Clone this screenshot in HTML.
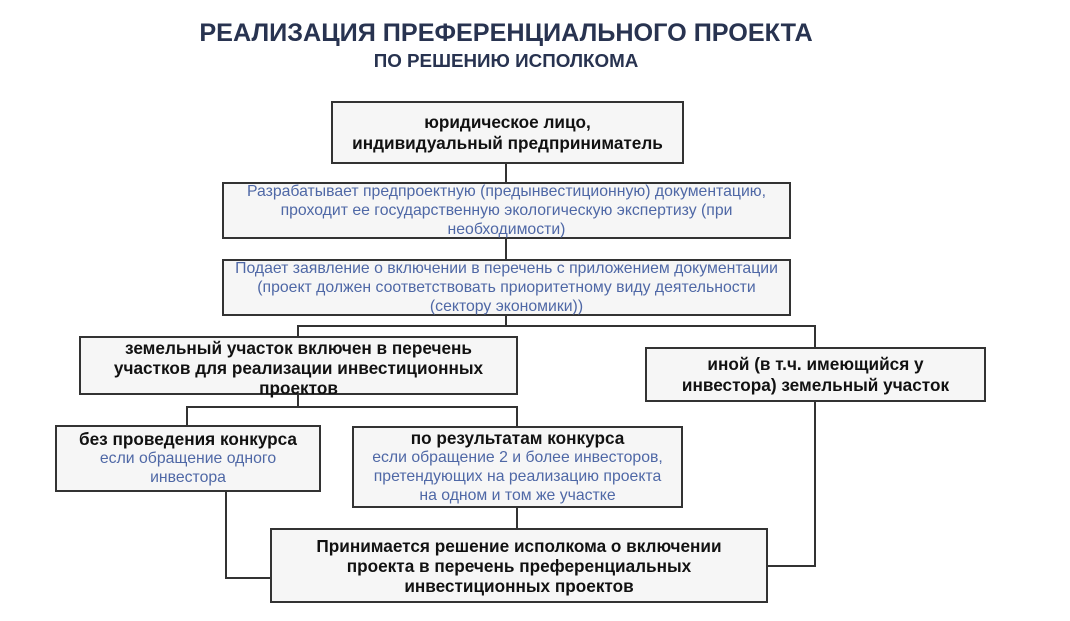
<!DOCTYPE html>
<html><head><meta charset="utf-8"><style>
body{margin:0;width:1070px;height:621px;background:#fff;position:relative;overflow:hidden;font-family:"Liberation Sans",Arial,sans-serif}
.t{position:absolute;left:0;width:1012px;text-align:center;color:#283350;font-weight:bold;white-space:nowrap}
.b{position:absolute;box-sizing:border-box;border:2px solid #333;background:#f6f6f6;display:flex;flex-direction:column;justify-content:center;align-items:center;text-align:center;line-height:19px;white-space:nowrap}
.k{font-weight:bold;color:#111;font-size:17.2px}
.u{color:#4f68a6;font-size:15.8px}
.l{position:absolute;background:#333}
</style></head><body>
<div class="t" style="top:19px;font-size:25.2px">РЕАЛИЗАЦИЯ ПРЕФЕРЕНЦИАЛЬНОГО ПРОЕКТА</div>
<div class="t" style="top:50px;font-size:18.8px">ПО РЕШЕНИЮ ИСПОЛКОМА</div>

<div class="l" style="left:505px;top:163px;width:2px;height:20px"></div>
<div class="l" style="left:505px;top:238px;width:2px;height:22px"></div>
<div class="l" style="left:505px;top:315px;width:2px;height:11px"></div>
<div class="l" style="left:297px;top:325px;width:518px;height:2px"></div>
<div class="l" style="left:297px;top:325px;width:2px;height:12px"></div>
<div class="l" style="left:814px;top:325px;width:2px;height:23px"></div>
<div class="l" style="left:297px;top:394px;width:2px;height:14px"></div>
<div class="l" style="left:186px;top:406px;width:332px;height:2px"></div>
<div class="l" style="left:186px;top:406px;width:2px;height:20px"></div>
<div class="l" style="left:516px;top:406px;width:2px;height:21px"></div>
<div class="l" style="left:225px;top:491px;width:2px;height:88px"></div>
<div class="l" style="left:225px;top:577px;width:46px;height:2px"></div>
<div class="l" style="left:516px;top:507px;width:2px;height:22px"></div>
<div class="l" style="left:814px;top:401px;width:2px;height:166px"></div>
<div class="l" style="left:766px;top:565px;width:50px;height:2px"></div>

<div class="b k" style="left:331px;top:101px;width:353px;height:63px;line-height:21px"><div>юридическое лицо,</div><div>индивидуальный предприниматель</div></div>
<div class="b u" style="left:222px;top:182px;width:569px;height:57px"><div>Разрабатывает предпроектную (предынвестиционную) документацию,</div><div>проходит ее государственную экологическую экспертизу (при</div><div>необходимости)</div></div>
<div class="b u" style="left:222px;top:259px;width:569px;height:57px"><div>Подает заявление о включении в перечень с приложением документации</div><div>(проект должен соответствовать приоритетному виду деятельности</div><div>(сектору экономики))</div></div>
<div class="b k" style="left:79px;top:336px;width:439px;height:59px;line-height:20px;justify-content:flex-start;padding-top:0"><div>земельный участок включен в перечень</div><div>участков для реализации инвестиционных</div><div>проектов</div></div>
<div class="b k" style="left:645px;top:347px;width:341px;height:55px;line-height:21px"><div>иной (в т.ч. имеющийся у</div><div>инвестора) земельный участок</div></div>
<div class="b" style="left:55px;top:425px;width:266px;height:67px"><div class="k">без проведения конкурса</div><div class="u">если обращение одного</div><div class="u">инвестора</div></div>
<div class="b" style="left:352px;top:426px;width:331px;height:82px"><div class="k">по результатам конкурса</div><div class="u">если обращение 2 и более инвесторов,</div><div class="u">претендующих на реализацию проекта</div><div class="u">на одном и том же участке</div></div>
<div class="b k" style="left:270px;top:528px;width:498px;height:75px;line-height:20px"><div>Принимается решение исполкома о включении</div><div>проекта в перечень преференциальных</div><div>инвестиционных проектов</div></div>
</body></html>
